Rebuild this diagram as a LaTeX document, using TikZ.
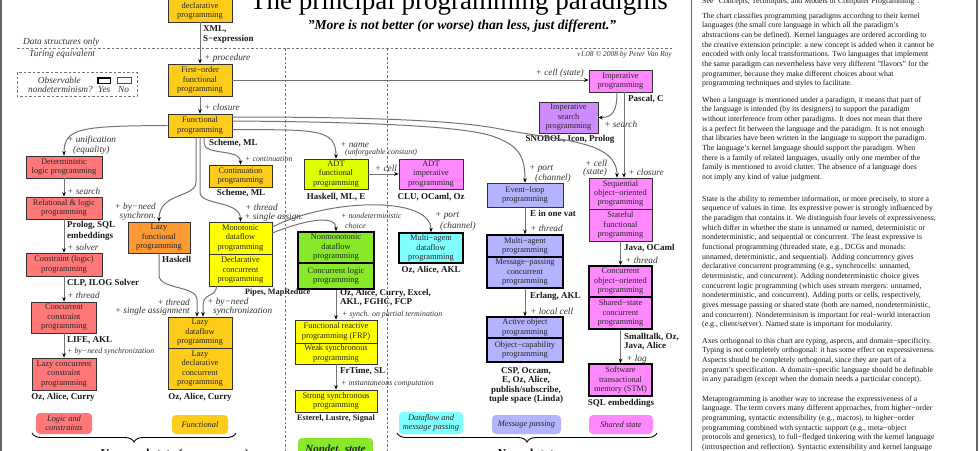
\documentclass[tikz,border=0pt]{standalone}
\usepackage{fontspec}
\setmainfont{Liberation Serif}
\usetikzlibrary{arrows.meta,calc,decorations.pathreplacing}
\definecolor{cfun}{HTML}{FFCC1A}
\definecolor{clazy}{HTML}{FF9933}
\definecolor{clogic}{HTML}{FF7777}
\definecolor{cyel}{HTML}{FFFF00}
\definecolor{cadt}{HTML}{DDFF00}
\definecolor{cgreen}{HTML}{88E82A}
\definecolor{ccyan}{HTML}{7FFFFF}
\definecolor{cmag}{HTML}{FF88FF}
\definecolor{cpurp}{HTML}{CC8CFF}
\definecolor{cblue}{HTML}{B3B3FF}
\newcommand\bxf{\fontsize{8.4}{9.4}\selectfont}
\newcommand\lgf{\fontsize{9}{9.5}\selectfont\bfseries}
\newcommand\slgf{\fontsize{8.2}{9}\selectfont\bfseries}
\newcommand\lbf{\fontsize{9.3}{10}\selectfont\itshape}
\newcommand\slbf{\fontsize{7.9}{9}\selectfont\itshape}
\newcommand\rtf{\fontsize{7.8}{9.65}\selectfont}
\newcommand\lgdf{\fontsize{8.4}{9.2}\selectfont\itshape}
\begin{document}
\begin{tikzpicture}[x=1pt,y=-1pt,
  box/.style={draw=black!80, line width=0.6pt, inner sep=0pt, align=center, font=\bxf, text=black!85},
  tbox/.style={box, draw=black, line width=1.7pt},
  sz/.style 2 args={minimum width=#1pt, minimum height=#2pt},
  lang/.style={font=\lgf, inner sep=0pt, text=black!90},
  slang/.style={font=\slgf, inner sep=0pt, text=black!90},
  lab/.style={font=\lbf, inner sep=0pt, text=black!80},
  slab/.style={font=\slbf, inner sep=0pt, text=black!80},
  conn/.style={draw=black!55, line width=1pt, -{Stealth[length=4.5pt,width=3.6pt,color=black]}},
  legb/.style={rounded corners=4pt, inner sep=0pt, align=center, font=\lgdf, text=black!85},
  dsh/.style={draw=black!55, line width=0.5pt, dash pattern=on 2.5pt off 2pt},
  rt/.style={font=\rtf, inner sep=0pt, align=left, anchor=north west, text=black!90}]
\useasboundingbox (0,0) rectangle (980,450);
% frame and separators
\draw[black!60, line width=1.2pt] (1,-5) -- (1,455);
\draw[black!60, line width=1pt] (691,-5) -- (691,455);
\draw[black!60, line width=1.2pt] (977,-5) -- (977,455);
\draw[dsh] (17,48) -- (673,48);
\draw[dsh] (285,48) -- (285,455);
\draw[dsh] (387,48) -- (387,455);
\draw[dsh] (17,72) rectangle (137,96);

% titles
\node[anchor=base, font=\fontsize{27}{27}\selectfont, inner sep=0pt] (title) at (459,9.5) {The principal programming paradigms};
\node[anchor=base, font=\fontsize{13.6}{14}\selectfont\bfseries\itshape, inner sep=0pt] (sub) at (462,29) {"More is not better (or worse) than less, just different."};
\node[lab, anchor=west] (dso) at (23,42) {Data structures only};
\node[lab, anchor=west] (teq) at (29,54) {Turing equivalent};
\node[inner sep=0pt, anchor=east, font=\fontsize{7.5}{8}\selectfont\itshape, text=black!80] (ver) at (672,55) {v1.08 © 2008 by Peter Van Roy};

% legend
\node[lab, anchor=east] (obs) at (81,80) {Observable};
\node[lab, anchor=east] (ndq) at (93,89) {nondeterminism?};
\node[lab, anchor=west] (yes) at (98,89) {Yes};
\node[lab, anchor=west] (no) at (118,89) {No};
\draw[line width=1.5pt] (97.75,77.75) rectangle (110.25,83.25);
\draw[line width=0.5pt, black!70] (117.5,77.5) rectangle (131,83.5);

% functional column
\node[box, fill=cfun, sz={64}{31}] (desc) at (200,6.5) {Descriptive\\declarative\\programming};
\node[box, fill=cfun, sz={64}{32}] (fofp) at (200,80) {First−order\\functional\\programming};
\node[box, fill=cfun, sz={64}{23}] (func) at (200,125.5) {Functional\\programming};
\node[box, fill=cfun, sz={63}{22}] (cont) at (240.5,176) {Continuation\\programming};
\node[box, fill=clazy, sz={62}{31}] (lazyf) at (159,237.5) {Lazy\\functional\\programming};
\node[box, fill=cyel, sz={63}{32}] (mono) at (240.5,238) {Monotonic\\dataflow\\programming};
\node[box, fill=cyel, sz={63}{32}] (decl) at (240.5,270) {Declarative\\concurrent\\programming};
\node[box, fill=cfun, sz={64}{31}] (lazyd) at (200,332.5) {Lazy\\dataflow\\programming};
\node[box, fill=cfun, sz={64}{41}] (lazydc) at (200,368.5) {Lazy\\declarative\\concurrent\\programming};

% logic column
\node[box, fill=clogic, sz={76}{22}] (det) at (64,167) {Deterministic\\logic programming};
\node[box, fill=clogic, sz={76}{22}] (rel) at (64,208) {Relational \& logic\\programming};
\node[box, fill=clogic, sz={76}{23}] (cons) at (64,264.5) {Constraint (logic)\\programming};
\node[box, fill=clogic, sz={65}{31}] (ccons) at (64,317.5) {Concurrent\\constraint\\programming};
\node[box, fill=clogic, sz={64}{32}] (lccons) at (64,374) {Lazy concurrent\\constraint\\programming};

% middle
\node[box, fill=cadt, sz={64}{30}] (adtf) at (336,174) {ADT\\functional\\programming};
\node[box, fill=cmag, sz={64}{30}] (adti) at (431,174) {ADT\\imperative\\programming};
\node[tbox, fill=cgreen, sz={76}{31}] (nonmono) at (336,247.5) {Nonmonotonic\\dataflow\\programming};
\node[tbox, fill=cgreen, sz={76}{26}] (clp) at (336,276) {Concurrent logic\\programming};
\node[tbox, fill=ccyan, sz={64}{30}] (mad) at (431,248) {Multi−agent\\dataflow\\programming};
\node[box, fill=cyel, sz={82}{23}] (frp) at (336,331.5) {Functional reactive\\programming (FRP)};
\node[box, fill=cyel, sz={82}{21}] (weak) at (336,353.5) {Weak synchronous\\programming};
\node[box, fill=cyel, sz={82}{22}] (strong) at (336,401) {Strong synchronous\\programming};

% message passing column
\node[box, fill=cblue, sz={76}{24}] (evl) at (525,195) {Event−loop\\programming};
\node[tbox, fill=cblue, sz={76}{22}] (magent) at (525,246) {Multi−agent\\programming};
\node[tbox, fill=cblue, sz={76}{31}] (mpc) at (525,272.5) {Message−passing\\concurrent\\programming};
\node[tbox, fill=cblue, sz={76}{21}] (actobj) at (525,327.5) {Active object\\programming};
\node[tbox, fill=cblue, sz={76}{24}] (ocap) at (525,350) {Object−capability\\programming};

% shared state column
\node[box, fill=cmag, sz={63}{22}] (imp) at (620.5,81) {Imperative\\programming};
\node[box, fill=cpurp, sz={59}{31}] (imps) at (568.5,117.5) {Imperative\\search\\programming};
\node[box, fill=cmag, sz={63}{31}] (seqoo) at (620.5,193.5) {Sequential\\object−oriented\\programming};
\node[box, fill=cmag, sz={63}{32}] (stateful) at (620.5,225) {Stateful\\functional\\programming};
\node[tbox, fill=cmag, sz={63}{31}] (concoo) at (620.5,281.5) {Concurrent\\object−oriented\\programming};
\node[tbox, fill=cmag, sz={63}{32}] (shared) at (620.5,313) {Shared−state\\concurrent\\programming};
\node[tbox, fill=cmag, sz={63}{32}] (stm) at (620.5,380) {Software\\transactional\\memory (STM)};

% languages
\node[lang, anchor=west] (l1) at (203,29) {XML,};
\node[lang, anchor=west] (l2) at (203,39) {S−expression};
\node[lang, anchor=west] (l3) at (209,143) {Scheme, ML};
\node[lang] (l4) at (241,193) {Scheme, ML};
\node[lang, anchor=west] (l5) at (162,259) {Haskell};
\node[lang, anchor=west] (l6) at (67,225) {Prolog, SQL};
\node[lang, anchor=west] (l7) at (67,236) {embeddings};
\node[lang, anchor=west] (l8) at (67,283) {CLP, ILOG Solver};
\node[lang, anchor=west] (l9) at (67,340) {LIFE, AKL};
\node[lang] (l10) at (63,397) {Oz, Alice, Curry};
\node[lang] (l11) at (200,397) {Oz, Alice, Curry};
\node[slang, anchor=west] (l12) at (245,293) {Pipes, MapReduce};
\node[lang] (l13) at (336,197) {Haskell, ML, E};
\node[lang] (l14) at (431,197) {CLU, OCaml, Oz};
\node[lang] (l15) at (431,270) {Oz, Alice, AKL};
\node[lang, anchor=west] (l16) at (340,293) {Oz, Alice, Curry, Excel,};
\node[lang, anchor=west] (l17) at (340,302) {AKL, FGHC, FCP};
\node[lang, anchor=west] (l18) at (340,371) {FrTime, SL};
\node[slang] (l19) at (336,419) {Esterel, Lustre, Signal};
\node[lang, anchor=west] (l20) at (530,213) {E in one vat};
\node[lang, anchor=west] (l21) at (530,296) {Erlang, AKL};
\node[lang, align=center] (l22) at (526,385.5) {CSP, Occam,\\E, Oz, Alice,\\publish/subscribe,\\tuple space (Linda)};
\node[lang] (l23) at (570,139) {SNOBOL, Icon, Prolog};
\node[lang, anchor=west] (l24) at (628,99) {Pascal, C};
\node[lang, anchor=west] (l25) at (624,248) {Java, OCaml};
\node[lang, anchor=west] (l26) at (624,337) {Smalltalk, Oz,};
\node[lang, anchor=west] (l27) at (624,346) {Java, Alice};
\node[lang] (l28) at (621,403) {SQL embeddings};

% connectors
\draw[conn] (desc) -- (fofp);
\node[lab, anchor=west] at (204,58) {+ procedure};
\draw[conn] (fofp) -- (func);
\node[lab, anchor=west] at (204,107) {+ closure};
\draw[conn] (fofp.east) -- (fofp.east -| imp.west);
\node[lab, anchor=east] at (584,73) {+ cell (state)};
\draw[conn] ($(imp.south)+(-3.5,0)$) .. controls (617,112) and (612,117.5) .. (imps.east);
\node[lab, anchor=west] at (604,124) {+ search};
\draw[conn] ($(imp.south)+(3.5,0)$) -- ($(seqoo.north)+(3.5,0)$);
\node[lab, anchor=west] at (628,172) {+ closure};
\draw[conn] ($(func.east)+(0,-8.5)$) .. controls (380,117) and (460,121) .. (500,129) .. controls (560,141) and (617,140) .. ($(seqoo.north)+(-3.5,0)$);
\node[lab, anchor=west] at (585,163) {+ cell};
\node[lab, anchor=west] at (583,172) {(state)};
\draw[conn] ($(func.east)+(0,-4.5)$) .. controls (380,122) and (465,127) .. (492,136) .. controls (518,145) and (525,155) .. (evl.north);
\node[lab, anchor=west] at (529,169) {+ port};
\node[lab, anchor=west] at (535,178) {(channel)};
\draw[conn] ($(func.east)+(0,4)$) .. controls (315,130) and (336,128) .. (adtf.north);
\node[lab, anchor=west] at (340,145) {+ name};
\node[slab, anchor=west] at (345,153) {(unforgeable constant)};
\draw[conn] (func.west) .. controls (80,126) and (64,128) .. (det.north);
\node[lab, anchor=west] at (67,140) {+ unification};
\node[lab, anchor=west] at (73,150) {(equality)};
\draw[conn] ($(func.south)+(4,0)$) -- (204,143) .. controls (204,156) and (240.5,148) .. (cont.north);
\node[slab, anchor=west] at (245,159) {+ continuation};
\draw[conn] ($(func.south)+(-4,0)$) -- (196,182) .. controls (196,198) and (159,192) .. (lazyf.north);
\node[lab, anchor=east] at (156,207) {+ by−need};
\node[lab, anchor=east] at (156,216) {synchron.};
\draw[conn] (func.south) -- (200,192) .. controls (200,206) and (240.5,200) .. (mono.north);
\node[lab, anchor=west] at (245,207) {+ thread};
\node[lab, anchor=west] at (244,217) {+ single assign.};
\draw[conn] ($(mono.east)+(0,-5)$) .. controls (305,220) and (336,214) .. (nonmono.north);
\node[slab, anchor=west] at (341,216) {+ nondeterministic};
\node[slab, anchor=west] at (345,226) {choice};
\draw[conn] ($(mono.east)+(0,-11)$) .. controls (330,198) and (431,196) .. (mad.north);
\node[lab, anchor=west] at (435,216) {+ port};
\node[lab, anchor=west] at (440,226) {(channel)};
\draw[conn] (lazyf.south) -- (159,275) .. controls (159,290) and (197,285) .. (197,300) -- ($(lazyd.north)+(-3,0)$);
\node[lab, anchor=east] at (190,302) {+ thread};
\node[lab, anchor=east] at (190,311) {+ single assignment};
\draw[conn] ($(decl.south)+(-24,0)$) .. controls (216.5,297) and (203,293) .. (203,305) -- ($(lazyd.north)+(3,0)$);
\node[lab, anchor=west] at (207,302) {+ by−need};
\node[lab, anchor=west] at (213,311) {synchronization};
\draw[conn] (det) -- (rel);
\node[lab, anchor=west] at (67,191) {+ search};
\draw[conn] (rel) -- (cons);
\node[lab, anchor=west] at (67,247) {+ solver};
\draw[conn] (cons) -- (ccons);
\node[lab, anchor=west] at (67,295) {+ thread};
\draw[conn] (ccons) -- (lccons);
\node[slab, anchor=west] at (67,352) {+ by−need synchronization};
\draw[conn] (adtf) -- (adti);
\node[lab] at (386,168) {+ cell};
\draw[conn] (clp) -- (frp);
\node[slab, anchor=west] at (342,315) {+ synch. on partial termination};
\draw[conn] (weak) -- (strong);
\node[slab, anchor=west] at (341,384) {+ instantaneous computation};
\draw[conn] (evl) -- (magent);
\node[lab, anchor=west] at (530,228) {+ thread};
\draw[conn] (mpc) -- (actobj);
\node[lab, anchor=west] at (530,311) {+ local cell};
\draw[conn] (stateful) -- (concoo);
\node[lab, anchor=west] at (625,260) {+ thread};
\draw[conn] (shared) -- (stm);
\node[lab, anchor=west] at (626,359) {+ log};

% bottom legend boxes
\node[legb, fill=clogic, sz={56}{21}] (lgL) at (64,423.5) {Logic and\\constraints};
\node[legb, fill=cfun, sz={56}{19}] (fnL) at (200,424.5) {Functional};
\node[legb, fill=cgreen, sz={75}{22}, font=\fontsize{11}{12}\selectfont\bfseries\itshape] (ndL) at (335.5,449) {Nondet. state};
\node[legb, fill=ccyan, sz={64}{22}] (dfL) at (431,423) {Dataflow and\\message passing};
\node[legb, fill=cblue, sz={69}{19}] (mpL) at (526.5,424.5) {Message passing};
\node[legb, fill=cmag, sz={64}{19}] (ssL) at (621,424.5) {Shared state};
\draw[decorate, decoration={brace, mirror, amplitude=9pt}, line width=0.9pt] (32,433) -- (236,433);
\draw[decorate, decoration={brace, mirror, amplitude=9pt}, line width=0.9pt] (397,433) -- (657,433);
\node[anchor=base west, inner sep=0pt, font=\fontsize{12}{12}\selectfont\bfseries\itshape] (uns) at (100,457) {Unnamed state (seq. or conc.)};
\node[anchor=base west, inner sep=0pt, font=\fontsize{12}{12}\selectfont\bfseries\itshape] (nms) at (497,457) {Named state};

% right column text
\node[rt] (p0) at (702,-2.4) {See "Concepts, Techniques, and Models of Computer Programming".};
\node[rt] (p1) at (702,12.6) {The chart classifies programming paradigms according to their kernel\\
languages (the small core language in which all the paradigm's\\
abstractions can be defined). Kernel languages are ordered according to\\
the creative extension principle: a new concept is added when it cannot be\\
encoded with only local transformations. Two languages that implement\\
the same paradigm can nevertheless have very different "flavors" for the\\
programmer, because they make different choices about what\\
programming techniques and styles to facilitate.};
\node[rt] (p2) at (702,96.6) {When a language is mentioned under a paradigm, it means that part of\\
the language is intended (by its designers) to support the paradigm\\
without interference from other paradigms. It does not mean that there\\
is a perfect fit between the language and the paradigm. It is not enough\\
that libraries have been written in the language to support the paradigm.\\
The language's kernel language should support the paradigm. When\\
there is a family of related languages, usually only one member of the\\
family is mentioned to avoid clutter. The absence of a language does\\
not imply any kind of value judgment.};
\node[rt] (p3) at (702,195.6) {State is the ability to remember information, or more precisely, to store a\\
sequence of values in time. Its expressive power is strongly influenced by\\
the paradigm that contains it. We distinguish four levels of expressiveness,\\
which differ in whether the state is unnamed or named, deterministic or\\
nondeterministic, and sequential or concurrent. The least expressive is\\
functional programming (threaded state, e.g., DCGs and monads:\\
unnamed, deterministic, and sequential). Adding concurrency gives\\
declarative concurrent programming (e.g., synchrocells: unnamed,\\
deterministic, and concurrent). Adding nondeterministic choice gives\\
concurrent logic programming (which uses stream mergers: unnamed,\\
nondeterministic, and concurrent). Adding ports or cells, respectively,\\
gives message passing or shared state (both are named, nondeterministic,\\
and concurrent). Nondeterminism is important for real−world interaction\\
(e.g., client/server). Named state is important for modularity.};
\node[rt] (p4) at (702,337.6) {Axes orthogonal to this chart are typing, aspects, and domain−specificity.\\
Typing is not completely orthogonal: it has some effect on expressiveness.\\
Aspects should be completely orthogonal, since they are part of a\\
program's specification. A domain−specific language should be definable\\
in any paradigm (except when the domain needs a particular concept).};
\node[rt] (p5) at (702,395.6) {Metaprogramming is another way to increase the expressiveness of a\\
language. The term covers many different approaches, from higher−order\\
programming, syntactic extensibility (e.g., macros), to higher−order\\
programming combined with syntactic support (e.g., meta−object\\
protocols and generics), to full−fledged tinkering with the kernel language\\
(introspection and reflection). Syntactic extensibility and kernel language};
\end{tikzpicture}
\end{document}
